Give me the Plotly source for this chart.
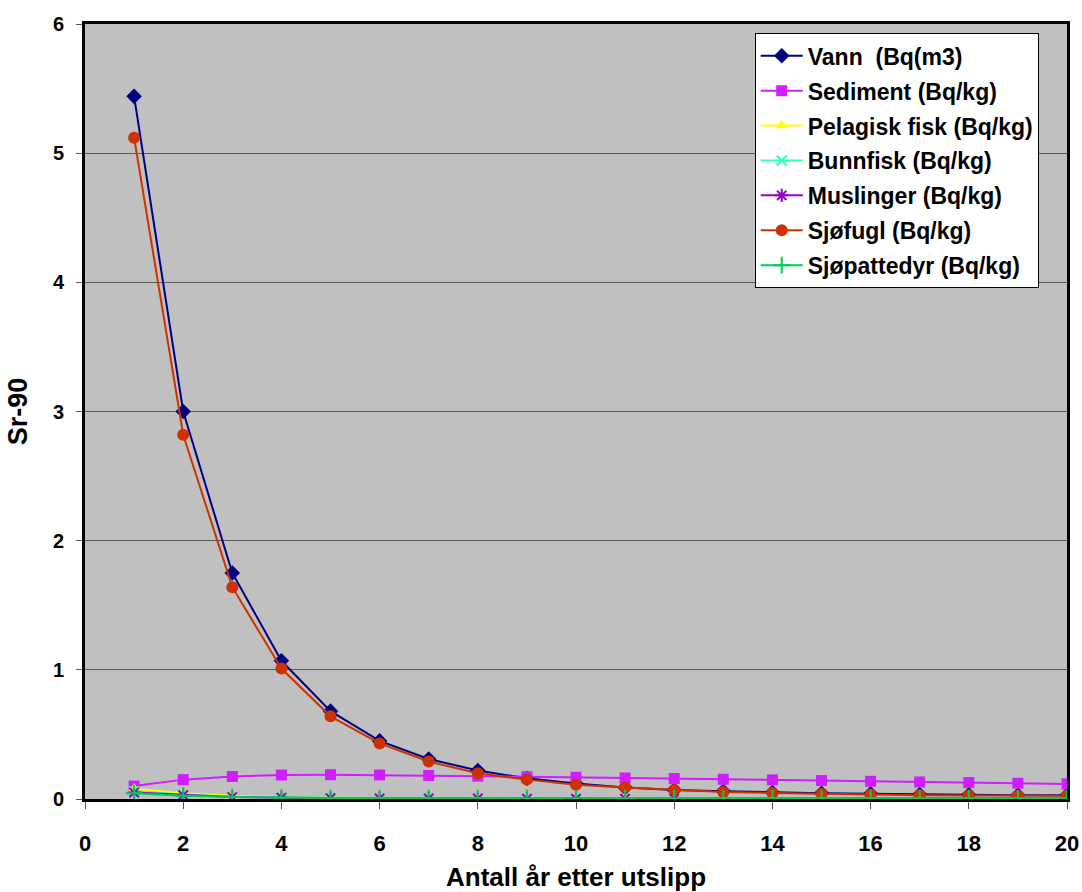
import plotly.graph_objects as go

years = list(range(1, 21))

vann = [5.44, 3.00, 1.75, 1.07, 0.68, 0.45, 0.31, 0.22, 0.16, 0.12, 0.09, 0.07, 0.06, 0.05, 0.045, 0.04, 0.035, 0.032, 0.03, 0.03]
sediment = [0.10, 0.15, 0.174, 0.186, 0.188, 0.186, 0.182, 0.177, 0.172, 0.168, 0.163, 0.158, 0.153, 0.148, 0.143, 0.137, 0.132, 0.127, 0.122, 0.117]
pelagisk = [0.08, 0.045, 0.025, 0.015, 0.01, 0.008, 0.006, 0.005, 0.004, 0.004, 0.003, 0.003, 0.003, 0.003, 0.002, 0.002, 0.002, 0.002, 0.002, 0.002]
bunnfisk = [0.06, 0.035, 0.02, 0.012, 0.009, 0.007, 0.006, 0.005, 0.005, 0.004, 0.004, 0.004, 0.004, 0.004, 0.004, 0.004, 0.004, 0.004, 0.004, 0.004]
muslinger = [0.05, 0.03, 0.015, 0.01, 0.007, 0.005, 0.004, 0.004, 0.003, 0.003, 0.003, 0.003, 0.003, 0.003, 0.003, 0.003, 0.003, 0.003, 0.003, 0.003]
sjofugl = [5.12, 2.82, 1.64, 1.01, 0.64, 0.43, 0.29, 0.20, 0.15, 0.11, 0.09, 0.07, 0.055, 0.047, 0.04, 0.035, 0.03, 0.028, 0.026, 0.025]
sjopattedyr = [0.045, 0.025, 0.015, 0.01, 0.008, 0.007, 0.006, 0.006, 0.006, 0.006, 0.006, 0.006, 0.006, 0.006, 0.006, 0.006, 0.006, 0.006, 0.006, 0.006]

x_ticks = list(range(0, 21, 2))
y_ticks = list(range(0, 7))

series = [
    ("Vann  (Bq(m3)", vann, "#000080", "diamond", 12, 0),
    ("Sediment (Bq/kg)", sediment, "#D01EFF", "square", 11, 0),
    ("Pelagisk fisk (Bq/kg)", pelagisk, "#FFFF00", "triangle-up", 11, 0),
    ("Bunnfisk (Bq/kg)", bunnfisk, "#33FFB8", "x-thin", 10, 2),
    ("Muslinger (Bq/kg)", muslinger, "#9900CC", "asterisk", 11, 2),
    ("Sjøfugl (Bq/kg)", sjofugl, "#CC3300", "circle", 12, 0),
    ("Sjøpattedyr (Bq/kg)", sjopattedyr, "#00CC55", "cross-thin", 12, 2),
]

fig = go.Figure()
for i, (name, vals, color, sym, size, lw) in enumerate(series):
    marker = dict(symbol=sym, size=size, color=color)
    if lw:
        marker["line"] = dict(color=color, width=lw)
    fig.add_trace(go.Scatter(
        x=years, y=vals, name=name, mode="lines+markers",
        line=dict(color=color, width=2), marker=marker,
        legendgroup=f"g{i}",
    ))

font_family = "Liberation Sans, Arial, sans-serif"

fig.update_layout(
    width=1082, height=892,
    margin=dict(l=85, r=15, t=24, b=93),
    paper_bgcolor="white",
    plot_bgcolor="#C0C0C0",
    font=dict(family=font_family, color="black"),
    showlegend=True,
    legend=dict(
        x=0.682, y=0.988, xanchor="left", yanchor="top",
        bgcolor="white", bordercolor="black", borderwidth=1,
        font=dict(family=font_family, size=23, color="black", weight="bold"),
        tracegroupgap=2,
        itemwidth=42,
    ),
    xaxis=dict(
        range=[0, 20], tickvals=x_ticks, ticktext=[str(v) for v in x_ticks],
        showgrid=False, zeroline=False, automargin=False,
        showline=True, linecolor="black", linewidth=3, mirror=True,
        ticks="outside", ticklen=7, tickcolor="#555555",
        ticklabelstandoff=16,
        tickfont=dict(size=22, weight="bold", family=font_family),
        title=dict(text="Antall år etter utslipp", standoff=22,
                   font=dict(size=26, weight="bold", family=font_family)),
    ),
    yaxis=dict(
        range=[0, 6], tickvals=y_ticks, ticktext=[str(v) for v in y_ticks],
        showgrid=True, gridcolor="#5a5a5a", gridwidth=1, zeroline=False,
        automargin=False,
        showline=True, linecolor="black", linewidth=3, mirror=True,
        ticks="outside", ticklen=6, tickcolor="#555555",
        ticklabelstandoff=8,
        tickfont=dict(size=20, weight="bold", family=font_family),
        title=dict(text="Sr-90", standoff=18,
                   font=dict(size=27, weight="bold", family=font_family)),
    ),
)

fig.write_html("out.html")
